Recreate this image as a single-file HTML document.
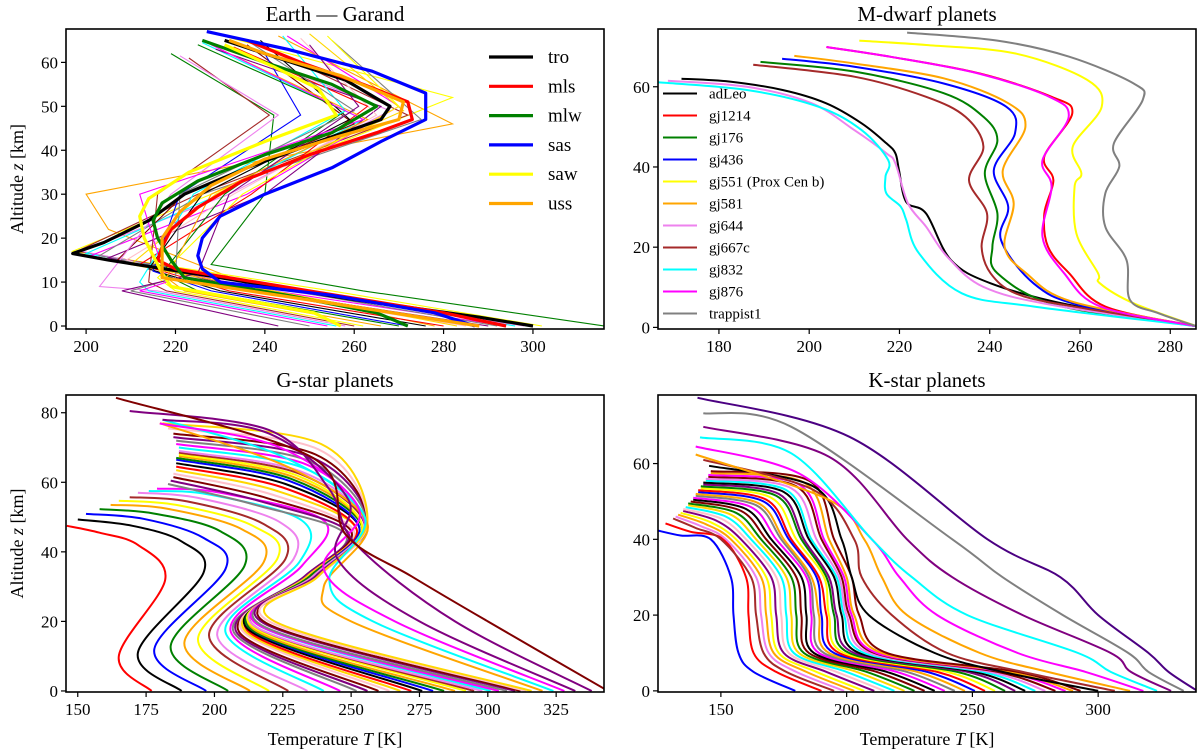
<!DOCTYPE html>
<html><head><meta charset="utf-8"><title>Atmospheric profiles</title>
<style>
html,body{margin:0;padding:0;background:#fff;}
svg{display:block;font-family:"Liberation Serif",serif;}
</style></head>
<body>
<svg id="fig" width="1200" height="751" viewBox="0 0 1200 751" xmlns="http://www.w3.org/2000/svg"></svg>
<script>
// ---------------- DATA ----------------
const palette = ['red','black','blue','green','orange','yellow','brown','violet','cyan','magenta','gray','purple','maroon','pink','gold'];

// Earth (Garand) thick reference profiles: [T, z]
const eNames = ['tro','mls','mlw','sas','saw','uss'];
const eColors = ['black','red','green','blue','yellow','orange'];
const eTro = [[300,0],[288,2],[260,6],[230,11],[205,15],[197,16.5],[204,19],[214,24],[222,30],[236,36],[252,42],[266,47],[268,50],[258,56],[240,62],[231,65]];
const eMls = [[294,0],[280,3],[250,8],[220,13],[216,15],[217,18],[219,22],[225,27],[235,33],[250,39],[265,44],[273,47],[272,51],[262,55],[248,60],[236,65]];
const eMlw = [[272,0],[265,3],[245,7],[222,11],[219,15],[216,20],[215,24],[217,28],[225,33],[240,39],[255,44],[265,50],[255,55],[240,60],[226,65]];
const eSas = [[287,0],[278,3],[255,7],[230,10],[226,13],[225,16],[226,20],[230,25],[240,30],[255,36],[266,42],[276,47],[276,53],[264,58],[245,63],[227,67]];
const eSaw = [[257,0],[251,3],[235,6],[219,9],[217,12],[215,16],[213,20],[212,25],[214,29],[223,35],[240,42],[256,48],[252,54],[242,59],[231,64]];
const eUss = [[288,0],[275,2],[256,5],[230,9],[217,11],[217,15],[217,20],[221,26],[228,32],[240,38],[256,43],[270,47],[271,51],[257,57],[240,62],[232,65]];
const eThick = [eTro,eMls,eMlw,eSas,eSaw,eUss];

// Earth thin profiles (columns)
const thT0  = [316,278,302,300,298,296,294,292,290,287,285,283,280,276,272,270,266,262,260,258,256,254,250,243];
const thT8  = [262,240,255,250,245,248,242,246,238,240,236,242,232,230,228,225,222,220,218,216,214,212,210,208];
const thTtp = [228,205,197,198,199,200,201,203,205,207,209,210,212,214,215,217,218,216,214,203,212,218,220,225];
const thZtp = [14,22,17,17,17,16.5,16,16,15.5,15,15,14,14,13,12.5,12,11,11,10,9,10,10,11,12];
const thT30 = [240,200,228,225,232,230,236,226,240,222,233,229,237,226,221,231,228,235,216,219,224,212,221,232];
const thTsp = [242,282,282,272,268,262,270,275,266,260,265,271,263,259,248,258,263,270,241,243,258,262,260,261];
const thZsp = [48,46,52,48,49,47,50,47,50,46,48,49,50,47,48,49,47,50,48,48,49,47,49,50];
const thTtop= [219,243,227,237,231,226,245,255,229,236,248,250,233,239,240,225,230,254,223,221,244,228,236,250];
const thZtop= [62,66,67,65,64,64.5,66,65,63,64,65.5,66.5,63.5,65,62,64,63,66,61,61.5,66,64,65,64];

// M-dwarf profiles [T, z]
const mNames = ['adLeo','gj1214','gj176','gj436','gj551 (Prox Cen b)','gj581','gj644','gj667c','gj832','gj876','trappist1'];
const mColors = ['black','red','green','blue','yellow','orange','violet','brown','cyan','magenta','gray'];
const mAdLeo = [[285.8,0.3],[257.6,5.6],[240.2,11],[231.4,16.8],[225.9,28.4],[221.5,31.3],[219.9,39.2],[219.1,43.4],[217.1,45.9],[211.6,50.9],[203.7,55.9],[194.1,59.2],[182.2,61.3],[171.7,62]];
const mGj1214 = [[285.8,0.3],[265.6,5.2],[257.6,13.5],[252.9,20.1],[252.1,28.4],[254.1,36.7],[252.1,42.6],[258.3,53.4],[253.7,57.5],[237.8,63.3],[217.9,67.5],[203.8,69.9]];
const mGj176 = [[285.8,0.3],[255,5.5],[241.7,13.5],[240.6,20.1],[241.7,28.4],[238.9,38.4],[241.7,46.7],[238.6,52.5],[229.8,58.4],[210,63.8],[189.2,66.2]];
const mGj436 = [[285.8,0.3],[260,5.5],[249.7,11],[242.5,21.8],[244.1,30.1],[240.9,39.2],[245.6,48.4],[243.7,55],[229.8,60.8],[210,65],[194,67]];
const mGj551 = [[285.8,0.3],[271.9,6],[264.4,11],[264,13.5],[259.2,23.4],[258.8,35.1],[260.3,38.4],[258.4,45.1],[264.8,55],[261.6,61.7],[245.7,68.3],[225.9,70.4],[211.1,71.5]];
const mGj581 = [[285.8,0.3],[258,6.5],[248.1,13.5],[243.3,20.1],[245.3,30.9],[242.9,39.2],[247.9,50],[244.1,55.9],[229.8,62.1],[210,65.8],[196.7,67.7]];
const mGj644 = [[285.8,0.3],[253.7,5.6],[238.6,10.1],[230.6,17.6],[225.9,25.1],[221.9,30.9],[219.1,40.9],[217.1,43.4],[210,49.2],[200.5,55.9],[186.2,60],[168.7,61.5]];
const mGj667c = [[285.8,0.3],[257,5.5],[245.7,8.5],[240.2,13.5],[238.2,20.1],[239.4,28.4],[235.4,36.7],[238.6,45.1],[234.6,52.5],[225.9,57.5],[210,62.5],[187.6,65.5]];
const mGj832 = [[285.8,0.3],[249.7,5.2],[233.8,8.5],[224.3,18.5],[221.5,26.8],[220.3,30.1],[217.1,33.4],[216.9,37.6],[217.5,41.7],[211.6,49.2],[202.1,55],[186.2,59.2],[166.5,61.1]];
const mGj876 = [[285.8,0.3],[264.5,5.2],[256.5,13.5],[251.7,22.6],[253.7,35.1],[251.7,41.7],[257.5,52.5],[253.2,57.5],[237.5,63.3],[217.9,67.5],[203.8,69.9]];
const mTrappist = [[285.8,0.3],[277.5,3.5],[271.1,6.8],[270.3,16.8],[265.6,25.1],[265.6,33.4],[268.7,40.1],[267.5,45.9],[273.9,56.7],[271.9,60.8],[257.6,67.5],[241.7,71.5],[221.7,73.5]];
const mProfiles = [mAdLeo,mGj1214,mGj176,mGj436,mGj551,mGj581,mGj644,mGj667c,mGj832,mGj876,mTrappist];

// G-star profiles (columns, one entry per planet)
const gT0  = [177,188,197,205,213,220,227,234,240,246, 252,256,260,264,268,272,276,280,284,288,292,295,298,301,304,307,310,312,314,316, 320,324,328,332,338,344];
const gT1  = [165,172,178,184,189,194,198,201,204,206, 207,208,209,210,211,212,212,213,213,214,214,215,215,216,216,217,218,219,220,222, 250,258,266,275,288,300];
const gZ1  = [10,11,12,13,14,15,16,16,17,17, 17,17,17,17.5,17.5,17.5,18,18,18,18,18.5,18.5,18.5,19,19,19,19.5,19.5,20,20, 20,20,20,20,20,20];
const gT2  = [182,196,204,211,218,223,226,229,231,232, 233,233,234,234,234,235,235,235,235,236,236,236,236,237,237,237,237,238,238,238, 240,242,240,245,252,272];
const gZ2  = [32,34,35,36,37,38,38,38,37,36, 33,33,33,33,33,33,33,33,33,33,33,33,33,33,33,33,33,33,33,33, 30,32,35,38,42,33];
const gT3  = [172,188,196,202,210,214,218,224,232,240, 248,249,250,251,252,252,253,253,254,254,254,255,255,255,255,256,256,256,256,256, 256,255,253,249,242,248];
const gZ3  = [42,43,44,46,46.5,47.5,48,48.5,49,49, 45,45.5,46,46,46.5,46.5,47,47,47,47.5,47.5,47.5,48,48,48,48,48.5,48.5,48.5,49, 48,50,52,55,58,45];
const gT4  = [158,170,174,178,182,186,190,194,198,202, 215,217,219,221,223,225,226,227,228,229,230,231,232,233,234,235,236,237,238,239, 228,226,224,220,220,236];
const gZ4  = [45.5,47.5,49.5,51,52.5,53.5,54.5,55.5,56.5,57, 53.5,54.5,55.5,56.5,57.5,58.5,59.5,60.5,61,61.5,62,62.5,63,64,65,66,67,68,69.5,71, 64,67,70,74,75,67];
const gTtop= [146,150,153,158,162,165,169,172,176,179, 183,184,185,185,186,186,186,186,186,187,187,187,187,187,186,186,185,185,183,181, 180,181,180,181,169,164];
const gZtop= [47.5,49.3,50.9,52.3,53.5,54.7,55.7,57,57.5,58.2, 59.5,60.5,61.5,62.5,63.5,64.5,65.5,66.5,67,67.5,68,68.5,69,70,71,72,73,74,75.5,77, 77,78,76.9,78,80.5,84.3];
const gRightColors = ['orange','cyan','magenta','purple','purple','maroon'];

// K-star profiles
const kT0  = [179.6,190,195,199,203,207,211,215,219,223,227,231,235,239,243,247,251,255,259,263,267,271,275,279,283,287,290,293, 300,306.6,312.7,318,323.4,329,334,339.4];
const kT5  = [163,172,176,180,184,188,192,196,200,204,208,212,216,220,224,228,232,236,240,244,248,251,254,257,260,263,265,268, 262,270,280,295,305,313,320,328];
const kT10 = [157,163,167,169,171,173,175,177,179,181,183,185,187,189,191,193,195,197,199,201,203,205,207,209,211,212,214,216, 235,240,253,268,292,305,312,320];
const kT20 = [155,161,164,166,168,170,172,174,176,178,180,182,184,186,187,189,190,192,193,195,196,198,199,200,201,202,203,205, 208.8,218,224,236,248,270,286,300];
const kT30 = [154,160,162,164,166,168,170,172,174,176,178,180,182,184,185,186,188,189,191,192,193,195,196,197,198,199,200,202, 202,206,214,221,226,242,262,285];
const kT40 = [146,151,150,152,154,156,158,160,162,164,166,168,170,172,174,175,177,178,180,182,183,185,186,188,190,191,193,195, 198,203,207,210,210,224,242,256];
const kTU  = [134,138,140,142,144,146,148,150,152,154,156,158,160,162,164,165,167,168,170,172,173,175,176,178,180,181,183,185, 187,187,193,181,178,193,178,201];
const kZU  = [41,42,43,43.5,44,44.5,45,45.5,46,46.5,47,47.5,48,48.5,49,49.5,50,50.5,51,51.5,52,52.5,53,53.5,54,54.5,55,55.5, 53.9,53,50.4,57.4,62.7,61.8,69.7,67.1];
const kTtop= [125,128,131,132,133,134,135,135,136,137,137,138,139,139,140,140,141,141,142,142,143,143,144,144,145,145,146,146, 145.3,143,140,140,141.7,143,143,140.7];
const kZtop= [42.3,44.2,45.5,46,46.5,47,47.5,48,48.5,49,49.5,50,50.5,51,51.5,52,52.5,53,53.5,54,54.5,55,55.5,56,56.5,57,57.5,58, 59.4,61,62.4,64.5,66.9,69.7,73.3,77.4];
const kColors = ['blue','red','brown','violet','orange','yellow','purple','pink','cyan','gold','green','maroon','black','magenta','gray','orange','blue','red','yellow','green','purple','black','cyan','violet','maroon','magenta','orange','maroon', 'black','brown','orange','magenta','cyan','purple','gray','indigo'];

// tick labels
const p1XTicks = [200,220,240,260,280,300];
const p1YTicks = [0,10,20,30,40,50,60];
const p2XTicks = [180,200,220,240,260,280];
const p2YTicks = [0,20,40,60];
const p3XTicks = [150,175,200,225,250,275,300,325];
const p3YTicks = [0,20,40,60,80];
const p4XTicks = [150,200,250,300];
const p4YTicks = [0,20,40,60];

// ---------------- DRAWING ----------------
const NS = 'http://www.w3.org/2000/svg';
const svg = document.getElementById('fig');
function mk(tag, attrs, parent){
  const e = document.createElementNS(NS, tag);
  for (const k in attrs) e.setAttribute(k, attrs[k]);
  (parent || svg).appendChild(e);
  return e;
}
function makeAxes(id, x0, x1, y0, y1, tmin, tmax, zmin, zmax){
  return {id, x0, x1, y0, y1,
    sx: t => x0 + (t - tmin) / (tmax - tmin) * (x1 - x0),
    sy: z => y1 - (z - zmin) / (zmax - zmin) * (y1 - y0)};
}
const A1 = makeAxes('p1', 66, 604, 29, 329, 195.5, 315.9, -0.68, 67.6);
const A2 = makeAxes('p2', 658, 1196, 29, 329, 166.5, 285.7, -0.4, 74.4);
const A3 = makeAxes('p3', 66, 604, 395, 692, 145.7, 342.5, -0.3, 85.1);
const A4 = makeAxes('p4', 658, 1196, 395, 692, 125, 338.9, -0.3, 78.1);

const defs = mk('defs', {});
[A1,A2,A3,A4].forEach(a => {
  const cp = mk('clipPath', {id: 'clip-' + a.id}, defs);
  mk('rect', {x: a.x0, y: a.y0, width: a.x1 - a.x0, height: a.y1 - a.y0}, cp);
});

function linePath(a, pts){
  return pts.map((p, i) => (i ? 'L' : 'M') + a.sx(p[0]).toFixed(1) + ',' + a.sy(p[1]).toFixed(1)).join(' ');
}
function smoothPath(a, pts){
  const P = pts.map(p => [a.sx(p[0]), a.sy(p[1])]);
  let d = 'M' + P[0][0].toFixed(1) + ',' + P[0][1].toFixed(1);
  for (let i = 0; i < P.length - 1; i++){
    const p0 = P[i-1] || P[i], p1 = P[i], p2 = P[i+1], p3 = P[i+2] || P[i+1];
    const c1 = [p1[0] + (p2[0]-p0[0])/6, p1[1] + (p2[1]-p0[1])/6];
    const c2 = [p2[0] - (p3[0]-p1[0])/6, p2[1] - (p3[1]-p1[1])/6];
    d += ' C' + c1[0].toFixed(1) + ',' + c1[1].toFixed(1) + ' ' + c2[0].toFixed(1) + ',' + c2[1].toFixed(1) + ' ' + p2[0].toFixed(1) + ',' + p2[1].toFixed(1);
  }
  return d;
}
function layer(a, name){
  const g = mk('g', {'clip-path': 'url(#clip-' + a.id + ')'});
  
  
  return g;
}
function drawFrame(a, xt, yt, title, name){
  const g = mk('g', {});
  
  
  const r = mk('rect', {x: a.x0, y: a.y0, width: a.x1 - a.x0, height: a.y1 - a.y0, fill: 'none', stroke: '#000', 'stroke-width': 1.6}, g);
  
  
  xt.forEach(v => {
    const x = a.sx(v);
    const tk = mk('line', {x1: x, x2: x, y1: a.y1, y2: a.y1 + 5, stroke: '#000', 'stroke-width': 1.2}, g);
    
    
    const tl = mk('text', {x: x, y: a.y1 + 23, 'text-anchor': 'middle', 'font-size': 17}, g);
    tl.textContent = v;
    
    
  });
  yt.forEach(v => {
    const y = a.sy(v);
    const tk = mk('line', {x1: a.x0 - 5, x2: a.x0, y1: y, y2: y, stroke: '#000', 'stroke-width': 1.2}, g);
    
    
    const tl = mk('text', {x: a.x0 - 8, y: y + 6, 'text-anchor': 'end', 'font-size': 17}, g);
    tl.textContent = v;
    
    
  });
  const t = mk('text', {x: (a.x0 + a.x1) / 2, y: a.y0 - 8, 'text-anchor': 'middle', 'font-size': 21}, g);
  t.textContent = title;
  
  
}

// ---- Panel 1: Earth ----
const g1 = layer(A1, 'earth-profiles');
for (let i = 0; i < thT0.length; i++){
  const pts = [[thT0[i],0],[thT8[i],8],[thTtp[i],thZtp[i]],[thT30[i],30],[thTsp[i],thZsp[i]],[thTtop[i],thZtop[i]]];
  const p = mk('path', {d: linePath(A1, pts), fill: 'none', stroke: palette[(i+3) % palette.length], 'stroke-width': 1.1}, g1);
  
  
}
eThick.forEach((pts, i) => {
  const p = mk('path', {d: linePath(A1, pts), fill: 'none', stroke: eColors[i], 'stroke-width': 3.2, 'stroke-linejoin': 'round'}, g1);
  
  
});
drawFrame(A1, p1XTicks, p1YTicks, 'Earth — Garand', 'earth');
const leg1 = mk('g', {});


eNames.forEach((n, i) => {
  const y = 57 + i * 29.3;
  const l = mk('line', {x1: 489, x2: 533, y1: y, y2: y, stroke: eColors[i], 'stroke-width': 3.2}, leg1);
  
  
  const t = mk('text', {x: 548, y: y + 6, 'font-size': 19}, leg1);
  t.textContent = n;
  
  
});

// ---- Panel 2: M-dwarf ----
const g2 = layer(A2, 'mdwarf-profiles');
mProfiles.forEach((pts, i) => {
  const p = mk('path', {d: smoothPath(A2, pts), fill: 'none', stroke: mColors[i], 'stroke-width': 2}, g2);
  
  
});
drawFrame(A2, p2XTicks, p2YTicks, 'M-dwarf planets', 'mdwarf');
const leg2 = mk('g', {});


mNames.forEach((n, i) => {
  const y = 93.5 + i * 22;
  const l = mk('line', {x1: 663, x2: 697, y1: y, y2: y, stroke: mColors[i], 'stroke-width': 2}, leg2);
  
  
  const t = mk('text', {x: 709, y: y + 5, 'font-size': 15}, leg2);
  t.textContent = n;
  
  
});

// ---- Panel 3: G-star ----
const g3 = layer(A3, 'gstar-profiles');
for (let i = 0; i < gT0.length; i++){
  const pts = [[gT0[i],0],[gT1[i],gZ1[i]],[gT2[i],gZ2[i]],[gT3[i],gZ3[i]],[gT4[i],gZ4[i]],[gTtop[i],gZtop[i]]];
  const nRight = gRightColors.length;
  const col = i >= gT0.length - nRight ? gRightColors[i - (gT0.length - nRight)] : palette[i % palette.length];
  const p = mk('path', {d: smoothPath(A3, pts), fill: 'none', stroke: col, 'stroke-width': 2}, g3);
  
  
}
drawFrame(A3, p3XTicks, p3YTicks, 'G-star planets', 'gstar');

// ---- Panel 4: K-star ----
const g4 = layer(A4, 'kstar-profiles');
for (let i = 0; i < kT0.length; i++){
  const pts = [[kT0[i],0],[kT5[i],5],[kT10[i],10],[kT20[i],20],[kT30[i],30],[kT40[i],40],[kTU[i],kZU[i]],[kTtop[i],kZtop[i]]]
    .filter((p, j, arr) => j === 0 || p[1] > arr[j-1][1] || j === arr.length - 1);
  const p = mk('path', {d: smoothPath(A4, pts), fill: 'none', stroke: kColors[i], 'stroke-width': 2}, g4);
  
  
}
drawFrame(A4, p4XTicks, p4YTicks, 'K-star planets', 'kstar');

// ---- axis labels ----
function yLabel(a, name){
  const cy = (a.y0 + a.y1) / 2;
  const t = mk('text', {x: 0, y: 0, transform: 'translate(23,' + cy + ') rotate(-90)', 'text-anchor': 'middle', 'font-size': 18});
  t.innerHTML = 'Altitude <tspan font-style="italic">z</tspan> [km]';
  
  
}
function xLabel(a, name){
  const t = mk('text', {x: (a.x0 + a.x1) / 2, y: 745, 'text-anchor': 'middle', 'font-size': 18});
  t.innerHTML = 'Temperature <tspan font-style="italic">T</tspan> [K]';
  
  
}
yLabel(A1, 'earth-y-axis-title');
yLabel(A3, 'gstar-y-axis-title');
xLabel(A3, 'gstar-x-axis-title');
xLabel(A4, 'kstar-x-axis-title');
</script>
</body></html>
